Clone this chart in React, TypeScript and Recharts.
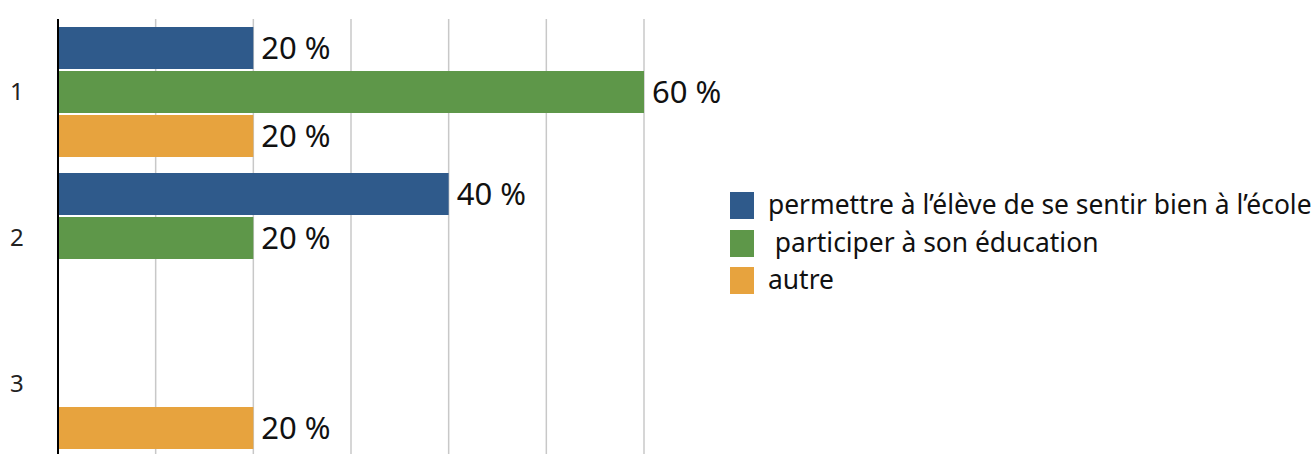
import { BarChart, Bar, XAxis, YAxis, CartesianGrid, LabelList } from 'recharts';

const categories = ['1', '2', '3'];
const seriesNames = [
  'permettre à l’élève de se sentir bien à l’école',
  ' participer à son éducation',
  'autre',
];
const blueValues = [20, 40, 0];
const greenValues = [60, 20, 0];
const orangeValues = [20, 0, 20];
const xTicks = [0, 10, 20, 30, 40, 50, 60];

const COLORS = ['#2f5a8b', '#5e9749', '#e7a33e'];
const FONT = '"Noto Sans", "Open Sans", sans-serif';

const data = categories.map((cat, i) => ({
  cat,
  s0: blueValues[i],
  s1: greenValues[i],
  s2: orangeValues[i],
}));

const pct = (v: any) => (v ? `${v} %` : '');

const CatTick = ({ y, payload }: any) => (
  <text x={10} y={y} dy={8} fontSize={24} fill="#222" fontFamily={FONT}>
    {payload.value}
  </text>
);

export default function App() {
  return (
    <div
      style={{
        position: 'fixed',
        left: 0,
        top: 0,
        width: 1316,
        height: 454,
        overflow: 'hidden',
        background: '#fff',
        fontFamily: FONT,
      }}
    >
      <BarChart
        width={1316}
        height={463}
        data={data}
        layout="vertical"
        margin={{ top: 19, right: 672, bottom: 6, left: 0 }}
        barCategoryGap={8}
        barGap={2}
      >
        <CartesianGrid horizontal={false} stroke="#c8c8c8" strokeWidth={1.5} />
        <XAxis type="number" domain={[0, 60]} ticks={xTicks} hide />
        <YAxis
          type="category"
          dataKey="cat"
          width={58}
          tickLine={false}
          axisLine={{ stroke: '#000', strokeWidth: 2 }}
          tick={<CatTick />}
        />
        {['s0', 's1', 's2'].map((key, i) => (
          <Bar key={key} dataKey={key} name={seriesNames[i]} fill={COLORS[i]} isAnimationActive={false}>
            <LabelList
              dataKey={key}
              position="right"
              offset={8}
              formatter={pct}
              fill="#111"
              fontSize={31}
              fontFamily={FONT}
            />
          </Bar>
        ))}
      </BarChart>
      <div style={{ position: 'absolute', left: 730, top: 187 }}>
        {seriesNames.map((name, i) => (
          <div key={name} style={{ display: 'flex', alignItems: 'center', height: 37.5 }}>
            <div style={{ width: 24, height: 27, background: COLORS[i], marginRight: 14 }} />
            <span
              style={{
                fontSize: 26.4,
                color: '#111',
                whiteSpace: 'pre',
                lineHeight: '27px',
                position: 'relative',
                top: -1,
              }}
            >
              {name}
            </span>
          </div>
        ))}
      </div>
    </div>
  );
}
